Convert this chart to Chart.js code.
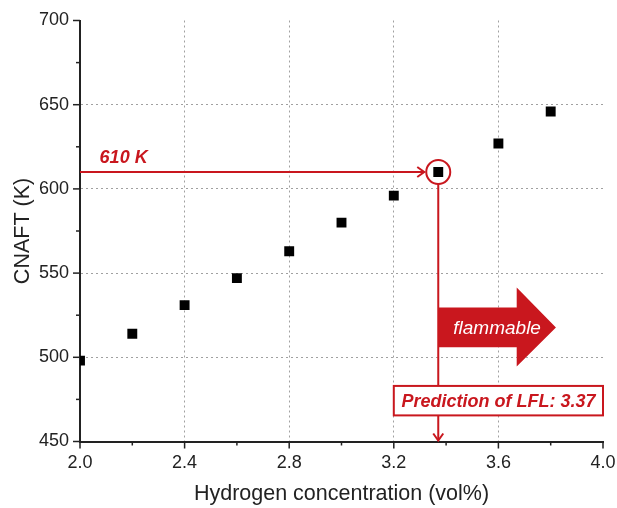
<!DOCTYPE html>
<html>
<head>
<meta charset="utf-8">
<script src="https://cdn.jsdelivr.net/npm/chart.js@4"></script>
<style>
  html, body { margin: 0; padding: 0; background: #fff; }
  #wrap { width: 617px; height: 508px; }
</style>
</head>
<body>
<div id="wrap"><canvas id="chart"></canvas></div>
<script>
// hydrogen concentration (vol%) and CNAFT (K)
var h2Conc = [2.0, 2.2, 2.4, 2.6, 2.8, 3.0, 3.2, 3.37, 3.6, 3.8];
var cnaft = [498, 514, 531, 547, 563, 580, 596, 610, 627, 646];

var lflX = 3.37;
var lflY = 610;
var lflText = 'Prediction of LFL: 3.37';
var tempText = '610 K';
var flamText = 'flammable';

var red = '#c9171e';

function isMajorX(v) { return Math.round(v * 10) % 4 === 0; }
function isMajorY(v) { return Math.round(v) % 50 === 0; }

var annotatePlugin = {
    id: 'annotate',
    afterDraw: function (chart) {
        var ctx = chart.ctx;
        var xs = chart.scales.x;
        var ys = chart.scales.y;
        var area = chart.chartArea;

        // tick marks, outward
        ctx.save();
        ctx.strokeStyle = '#222';
        ctx.lineWidth = 1.5;
        xs.ticks.forEach(function (t) {
            var px = xs.getPixelForValue(t.value);
            var len = isMajorX(t.value) ? 7 : 4;
            ctx.beginPath();
            ctx.moveTo(px, area.bottom);
            ctx.lineTo(px, area.bottom + len);
            ctx.stroke();
        });
        ys.ticks.forEach(function (t) {
            var py = ys.getPixelForValue(t.value);
            var len = isMajorY(t.value) ? 7 : 4;
            ctx.beginPath();
            ctx.moveTo(area.left, py);
            ctx.lineTo(area.left - len, py);
            ctx.stroke();
        });
        ctx.restore();

        var px = xs.getPixelForValue(lflX);
        var py = ys.getPixelForValue(lflY);
        var r = 12;

        ctx.save();
        ctx.strokeStyle = red;
        ctx.fillStyle = red;
        ctx.lineWidth = 2;

        // horizontal arrow to the circled point
        ctx.beginPath();
        ctx.moveTo(area.left, py);
        ctx.lineTo(px - r - 2, py);
        ctx.stroke();
        ctx.beginPath();
        ctx.moveTo(px - r - 9, py - 5);
        ctx.lineTo(px - r - 2, py);
        ctx.lineTo(px - r - 9, py + 5);
        ctx.stroke();

        // circle
        ctx.beginPath();
        ctx.arc(px, py, r, 0, Math.PI * 2);
        ctx.stroke();

        // vertical arrow down to the axis
        ctx.beginPath();
        ctx.moveTo(px, py + r);
        ctx.lineTo(px, area.bottom - 1);
        ctx.stroke();
        ctx.beginPath();
        ctx.moveTo(px - 5, area.bottom - 8);
        ctx.lineTo(px, area.bottom - 1);
        ctx.lineTo(px + 5, area.bottom - 8);
        ctx.stroke();

        // 610 K label
        ctx.font = 'italic bold 18px "Liberation Sans", Arial, sans-serif';
        ctx.textAlign = 'left';
        ctx.textBaseline = 'middle';
        ctx.fillText(tempText, xs.getPixelForValue(2.075), ys.getPixelForValue(618.5));

        // big flammable arrow
        var bx0 = px;
        var bx1 = xs.getPixelForValue(3.67);
        var tip = xs.getPixelForValue(3.82);
        var bTop = ys.getPixelForValue(529.5);
        var bBot = ys.getPixelForValue(506);
        var hTop = ys.getPixelForValue(541.5);
        var hBot = ys.getPixelForValue(494.5);
        var mid = (bTop + bBot) / 2;
        ctx.beginPath();
        ctx.moveTo(bx0, bTop);
        ctx.lineTo(bx1, bTop);
        ctx.lineTo(bx1, hTop);
        ctx.lineTo(tip, mid);
        ctx.lineTo(bx1, hBot);
        ctx.lineTo(bx1, bBot);
        ctx.lineTo(bx0, bBot);
        ctx.closePath();
        ctx.fill();
        ctx.fillStyle = '#fff';
        ctx.font = 'italic 19px "Liberation Sans", Arial, sans-serif';
        ctx.textAlign = 'center';
        ctx.fillText(flamText, (bx0 + tip) / 2, mid + 1);

        // LFL box
        var lx0 = xs.getPixelForValue(3.2);
        var lx1 = xs.getPixelForValue(4.0);
        var ly0 = ys.getPixelForValue(483);
        var ly1 = ys.getPixelForValue(465.5);
        ctx.fillStyle = '#fff';
        ctx.fillRect(lx0, ly0, lx1 - lx0, ly1 - ly0);
        ctx.lineWidth = 2;
        ctx.strokeRect(lx0, ly0, lx1 - lx0, ly1 - ly0);
        ctx.fillStyle = red;
        ctx.font = 'italic bold 18px "Liberation Sans", Arial, sans-serif';
        ctx.fillText(lflText, (lx0 + lx1) / 2, (ly0 + ly1) / 2 + 1);
        ctx.restore();
    }
};

var gridX = function (c) {
    var v = c.tick ? c.tick.value : 0;
    return (isMajorX(v) && v > 2.01 && v < 3.99) ? '#a0a0a0' : 'rgba(0,0,0,0)';
};
var gridY = function (c) {
    var v = c.tick ? c.tick.value : 0;
    return (isMajorY(v) && v > 451 && v < 699) ? '#a0a0a0' : 'rgba(0,0,0,0)';
};

var chart = new Chart(document.getElementById('chart'), {
    type: 'scatter',
    data: {
        datasets: [{
            data: h2Conc.map(function (x, i) { return { x: x, y: cnaft[i] }; }),
            pointStyle: 'rect',
            pointRadius: 7,
            pointHoverRadius: 7,
            backgroundColor: '#000',
            borderColor: '#000',
            borderWidth: 0
        }]
    },
    options: {
        responsive: true,
        maintainAspectRatio: false,
        animation: false,
        events: [],
        layout: { padding: { top: 20.5, right: 14, left: 0, bottom: 0 } },
        plugins: { legend: { display: false }, tooltip: { enabled: false } },
        scales: {
            x: {
                type: 'linear',
                min: 2.0,
                max: 4.0,
                afterFit: function (s) {
                    s.height = 66.5;
                    s.paddingLeft = 0;
                    s.paddingRight = 0;
                },
                ticks: {
                    stepSize: 0.2,
                    padding: 11,
                    color: '#222',
                    font: { family: '"Liberation Sans", Arial, sans-serif', size: 18 },
                    callback: function (v) { return isMajorX(v) ? v.toFixed(1) : ''; },
                    maxRotation: 0,
                    autoSkip: false
                },
                grid: { color: gridX, lineWidth: 1, drawTicks: false },
                border: { display: true, color: '#222', width: 2, dash: [2, 3] },
                title: {
                    display: true,
                    text: 'Hydrogen concentration (vol%)',
                    color: '#222',
                    font: { family: '"Liberation Sans", Arial, sans-serif', size: 21.5 },
                    padding: { top: 0, bottom: 1 }
                }
            },
            y: {
                type: 'linear',
                min: 450,
                max: 700,
                afterFit: function (s) {
                    s.width = 80;
                    s.paddingTop = 0;
                    s.paddingBottom = 0;
                },
                ticks: {
                    stepSize: 25,
                    padding: 11,
                    color: '#222',
                    font: { family: '"Liberation Sans", Arial, sans-serif', size: 18 },
                    callback: function (v) { return isMajorY(v) ? String(v) : ''; },
                    autoSkip: false
                },
                grid: { color: gridY, lineWidth: 1, drawTicks: false },
                border: { display: true, color: '#222', width: 2, dash: [2, 3] },
                title: {
                    display: true,
                    text: 'CNAFT (K)',
                    color: '#222',
                    font: { family: '"Liberation Sans", Arial, sans-serif', size: 21.5 },
                    padding: { top: 10, bottom: 0 }
                }
            }
        }
    },
    plugins: [annotatePlugin]
});
</script>
</body>
</html>
